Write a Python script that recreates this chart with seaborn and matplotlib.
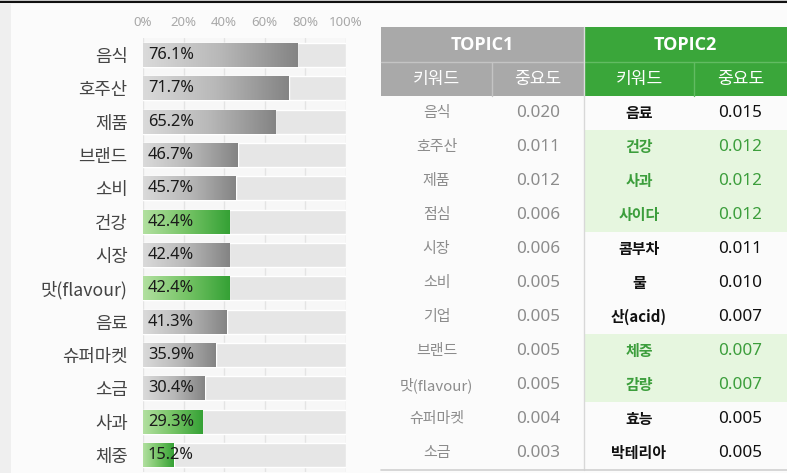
import numpy as np
import pandas as pd
import matplotlib.pyplot as plt
import matplotlib.colors as mcolors
from matplotlib.patches import Rectangle
import seaborn as sns

# keyword share (left bar chart)
categories = ['음식', '호주산', '제품', '브랜드', '소비', '건강', '시장', '맛(flavour)',
              '음료', '슈퍼마켓', '소금', '사과', '체중']
shares = [76.1, 71.7, 65.2, 46.7, 45.7, 42.4, 42.4, 42.4, 41.3, 35.9, 30.4, 29.3, 15.2]
green_keys = ['건강', '맛(flavour)', '사과', '체중']
x_ticks = [0, 20, 40, 60, 80, 100]

# topic table (right)
topic1_words = ['음식', '호주산', '제품', '점심', '시장', '소비', '기업', '브랜드',
                '맛(flavour)', '슈퍼마켓', '소금']
topic1_scores = [0.020, 0.011, 0.012, 0.006, 0.006, 0.005, 0.005, 0.005, 0.005, 0.004, 0.003]
topic2_words = ['음료', '건강', '사과', '사이다', '콤부차', '물', '산(acid)', '체중', '감량',
                '효능', '박테리아']
topic2_scores = [0.015, 0.012, 0.012, 0.012, 0.011, 0.010, 0.007, 0.007, 0.007, 0.005, 0.005]
topic2_green = ['건강', '사과', '사이다', '체중', '감량']

sns.set_style('white')
plt.rcParams['font.family'] = ['Noto Sans CJK KR', 'DejaVu Sans']
NUM_FONT = ['Noto Sans', 'DejaVu Sans']
HEAD_FONT = ['Open Sans', 'DejaVu Sans']

W, H = 787, 473
BG = '#fbfbfb'
GREEN = '#3aa63a'
fig = plt.figure(figsize=(W / 100, H / 100), dpi=100, facecolor=BG)

# overlay axes in pixel coordinates for the frame + table
ov = fig.add_axes([0, 0, 1, 1], zorder=0)
ov.set_xlim(0, W)
ov.set_ylim(H, 0)
ov.axis('off')
ov.add_patch(Rectangle((0, 0), W, 2, color='#cfcfcf', lw=0))
ov.plot([0, W], [2.5, 2.5], color='#111111', lw=1.5)
ov.add_patch(Rectangle((0, 4), 11, H, color='#efefef', lw=0))

# ---- left bar chart ----
df = pd.DataFrame({'keyword': categories, 'share': shares})
ax = fig.add_axes([143 / W, 1 - 471.7 / H, 203 / W, (471.7 - 38.3) / H], zorder=1)
ax.set_facecolor('#f7f7f7')
sns.barplot(data=df.assign(full=100), x='full', y='keyword', color='#e6e6e6',
            saturation=1, width=0.72, ax=ax, zorder=2)
n_bg = len(ax.patches)
sns.barplot(data=df, x='share', y='keyword', color='#999999',
            saturation=1, width=0.72, ax=ax, zorder=3)

gray_cmap = mcolors.LinearSegmentedColormap.from_list('g', ['#dadada', '#b8b8b8', '#848484'])
green_cmap = mcolors.LinearSegmentedColormap.from_list('gr', ['#b2e0a0', '#76c466', '#35a135'])
grad = np.linspace(0, 1, 256).reshape(1, -1)
for patch, key, val in zip(ax.patches[n_bg:], categories, shares):
    x0, y0 = patch.get_x(), patch.get_y()
    w, h = patch.get_width(), patch.get_height()
    cmap = green_cmap if key in green_keys else gray_cmap
    patch.set_facecolor('none')
    im = ax.imshow(grad, cmap=cmap, aspect='auto', extent=[x0, x0 + w, y0 + h, y0],
                   zorder=3, interpolation='bilinear')
    im.set_clip_path(patch)
    ax.text(2.4, y0 + h / 2, f'{val}%', va='center', ha='left', fontsize=11.8,
            color='#1a1a1a', zorder=5, family=NUM_FONT)

ax.set_xlim(0, 100)
ax.set_ylim(len(categories) - 0.5, -0.5)
ax.set_xticks(x_ticks)
ax.set_xticklabels([f'{t}%' for t in x_ticks], family=NUM_FONT)
ax.xaxis.tick_top()
ax.tick_params(axis='x', length=0, pad=7, labelsize=9.5, labelcolor='#a8a8a8')
ax.tick_params(axis='y', length=0, pad=11, labelsize=12.8, labelcolor='#444444')
ax.set_xlabel('')
ax.set_ylabel('')
ax.grid(axis='x', color='#e4e4e4', lw=1, zorder=0)
ax.set_axisbelow(True)
for s in ax.spines.values():
    s.set_visible(False)

# ---- right table ----
cols = [381, 492, 584, 694, 787]
h1_top, h2_top, body_top, row_h = 27, 62, 96, 34
hdr_gray = '#a9a9a9'
ov.add_patch(Rectangle((cols[0], h1_top), cols[2] - cols[0], body_top - h1_top, color=hdr_gray, lw=0))
ov.add_patch(Rectangle((cols[2], h1_top), cols[4] - cols[2], body_top - h1_top, color=GREEN, lw=0))
ov.plot([cols[0], cols[2]], [h2_top, h2_top], color='#c4c4c4', lw=1)
ov.plot([cols[2], cols[4]], [h2_top, h2_top], color='#62bb62', lw=1)
ov.plot([cols[1], cols[1]], [h2_top, body_top], color='#c4c4c4', lw=1)
ov.plot([cols[3], cols[3]], [h2_top, body_top], color='#62bb62', lw=1)
ov.plot([cols[2], cols[2]], [h1_top, body_top], color='#dddddd', lw=1)

ov.text((cols[0] + cols[2]) / 2, (h1_top + h2_top) / 2, 'TOPIC1', ha='center', va='center',
        color='white', fontsize=13, fontweight='bold', family=HEAD_FONT)
ov.text((cols[2] + cols[4]) / 2, (h1_top + h2_top) / 2, 'TOPIC2', ha='center', va='center',
        color='white', fontsize=13, fontweight='bold', family=HEAD_FONT)
for i, lab in enumerate(['키워드', '중요도', '키워드', '중요도']):
    ov.text((cols[i] + cols[i + 1]) / 2, (h2_top + body_top) / 2, lab, ha='center',
            va='center', color='white', fontsize=12.3)

n_rows = len(topic1_words)
for i in range(n_rows):
    yc = body_top + row_h * (i + 0.5)
    ov.text((cols[0] + cols[1]) / 2, yc, topic1_words[i], ha='center', va='center',
            color='#8c8c8c', fontsize=10.8)
    ov.text((cols[1] + cols[2]) / 2, yc, f'{topic1_scores[i]:.3f}', ha='center', va='center',
            color='#8c8c8c', fontsize=12.3, family=NUM_FONT)
    hl = topic2_words[i] in topic2_green
    if hl:
        ov.add_patch(Rectangle((cols[2] + 1, body_top + row_h * i), cols[4] - cols[2] - 1, row_h,
                               color='#e6f6df', lw=0, zorder=0))
    tc = '#3c9e3c' if hl else '#111111'
    ov.text((cols[2] + cols[3]) / 2, yc, topic2_words[i], ha='center', va='center',
            color=tc, fontsize=10.8, fontweight='bold')
    ov.text((cols[3] + cols[4]) / 2, yc, f'{topic2_scores[i]:.3f}', ha='center', va='center',
            color=tc, fontsize=12.3, family=NUM_FONT)

body_bot = body_top + row_h * n_rows
ov.plot([cols[2], cols[2]], [body_top, body_bot], color='#d8d8d8', lw=1)
ov.plot([cols[0], cols[4]], [body_bot, body_bot], color='#d0d0d0', lw=1.2)

fig.savefig('out.png', dpi=100, facecolor=BG)
